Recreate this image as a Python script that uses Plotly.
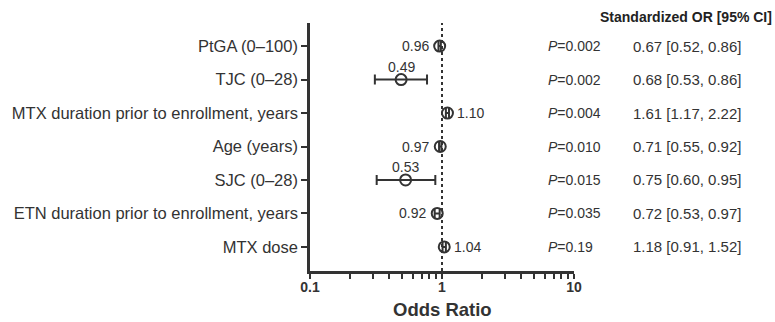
import math
import plotly.graph_objects as go

labels = ["PtGA (0\u2013100)", "TJC (0\u201328)", "MTX duration prior to enrollment, years",
          "Age (years)", "SJC (0\u201328)", "ETN duration prior to enrollment, years", "MTX dose"]
odds = [0.96, 0.49, 1.10, 0.97, 0.53, 0.92, 1.04]
ci_low = [0.94, 0.31, 1.07, 0.95, 0.32, 0.88, 1.01]
ci_high = [0.98, 0.77, 1.13, 0.99, 0.89, 0.96, 1.07]
p_values = ["0.002", "0.002", "0.004", "0.010", "0.015", "0.035", "0.19"]
std_or = ["0.67 [0.52, 0.86]", "0.68 [0.53, 0.86]", "1.61 [1.17, 2.22]", "0.71 [0.55, 0.92]",
          "0.75 [0.60, 0.95]", "0.72 [0.53, 0.97]", "1.18 [0.91, 1.52]"]
label_pos = ["left", "top", "right", "left", "top", "left", "right"]
x_ticks = [0.1, 1, 10]
x_tick_labels = ["0.1", "1", "10"]
minor_ticks = [0.2, 0.3, 0.4, 0.5, 0.6, 0.7, 0.8, 0.9, 2, 3, 4, 5, 6, 7, 8, 9]

n = len(labels)
ys = [n - 1 - i for i in range(n)]
DARK = "#333333"
FONT = "Liberation Sans, Arial, sans-serif"

fig = go.Figure()
fig.add_trace(go.Scatter(
    x=odds, y=ys, mode="markers",
    marker=dict(symbol="circle-open", size=11, color=DARK, line=dict(width=2, color=DARK)),
    error_x=dict(type="data", symmetric=False,
                 array=[h - o for h, o in zip(ci_high, odds)],
                 arrayminus=[o - l for o, l in zip(odds, ci_low)],
                 color=DARK, thickness=2, width=5),
    showlegend=False, hoverinfo="skip",
))

ymin, ymax = -0.72, n - 1 + 0.69

fig.add_shape(type="line", xref="x", yref="y", x0=1, x1=1, y0=ymin, y1=ymax,
              line=dict(color=DARK, width=2, dash="dot"), layer="below")

vfont = dict(size=14, color=DARK, family=FONT)
for o, y, pos in zip(odds, ys, label_pos):
    txt = f"{o:.2f}"
    lx = math.log10(o)
    if pos == "left":
        fig.add_annotation(x=lx, y=y, xref="x", yref="y", text=txt, showarrow=False,
                           xanchor="right", xshift=-9, font=vfont)
    elif pos == "right":
        fig.add_annotation(x=lx, y=y, xref="x", yref="y", text=txt, showarrow=False,
                           xanchor="left", xshift=8, font=vfont)
    else:
        fig.add_annotation(x=lx, y=y, xref="x", yref="y", text=txt, showarrow=False,
                           yanchor="bottom", yshift=3, font=vfont)

for y, p, s in zip(ys, p_values, std_or):
    fig.add_annotation(x=1.0, y=y, xref="paper", yref="y", text=f"<i>P</i>={p}", showarrow=False,
                       xanchor="left", xshift=-28, font=dict(size=14, color=DARK, family=FONT))
    fig.add_annotation(x=1.0, y=y, xref="paper", yref="y", text=s, showarrow=False,
                       xanchor="left", xshift=57, font=dict(size=15, color=DARK, family=FONT))

fig.add_annotation(x=1.0, y=1.0, xref="paper", yref="paper", yanchor="middle", yshift=6,
                   text="<b>Standardized OR [95% CI]</b>", showarrow=False,
                   xanchor="left", xshift=24, font=dict(size=14, color="#222", family=FONT))

fig.add_annotation(x=0.5, y=0, xref="paper", yref="paper", yanchor="middle", yshift=-38,
                   text="<b>Odds Ratio</b>", showarrow=False, borderpad=0,
                   font=dict(size=18.5, color=DARK, family=FONT))

fig.update_layout(
    width=775, height=322,
    margin=dict(l=310, r=201, t=23, b=51, autoexpand=False),
    plot_bgcolor="white", paper_bgcolor="white",
    font=dict(family=FONT, color=DARK),
)

fig.update_xaxes(type="log", range=[-1, 1], tickvals=x_ticks,
                 ticktext=[f"<b>{t}</b>" for t in x_tick_labels],
                 tickfont=dict(size=14, color=DARK, family=FONT), ticklabelstandoff=-4,
                 showline=True, linecolor=DARK, linewidth=2.5, ticks="outside", ticklen=5,
                 tickwidth=2, tickcolor=DARK, showgrid=False, zeroline=False,
                 minor=dict(tickvals=minor_ticks,
                            ticks="outside", ticklen=5, tickwidth=2, tickcolor=DARK, showgrid=False))
fig.update_yaxes(range=[ymin, ymax], tickvals=ys, ticktext=labels,
                 tickfont=dict(size=16.5, color=DARK, family=FONT),
                 showline=True, linecolor=DARK, linewidth=2.5, ticks="outside", ticklen=6,
                 tickwidth=2, tickcolor=DARK, showgrid=False, zeroline=False)

fig.write_html("out.html")
